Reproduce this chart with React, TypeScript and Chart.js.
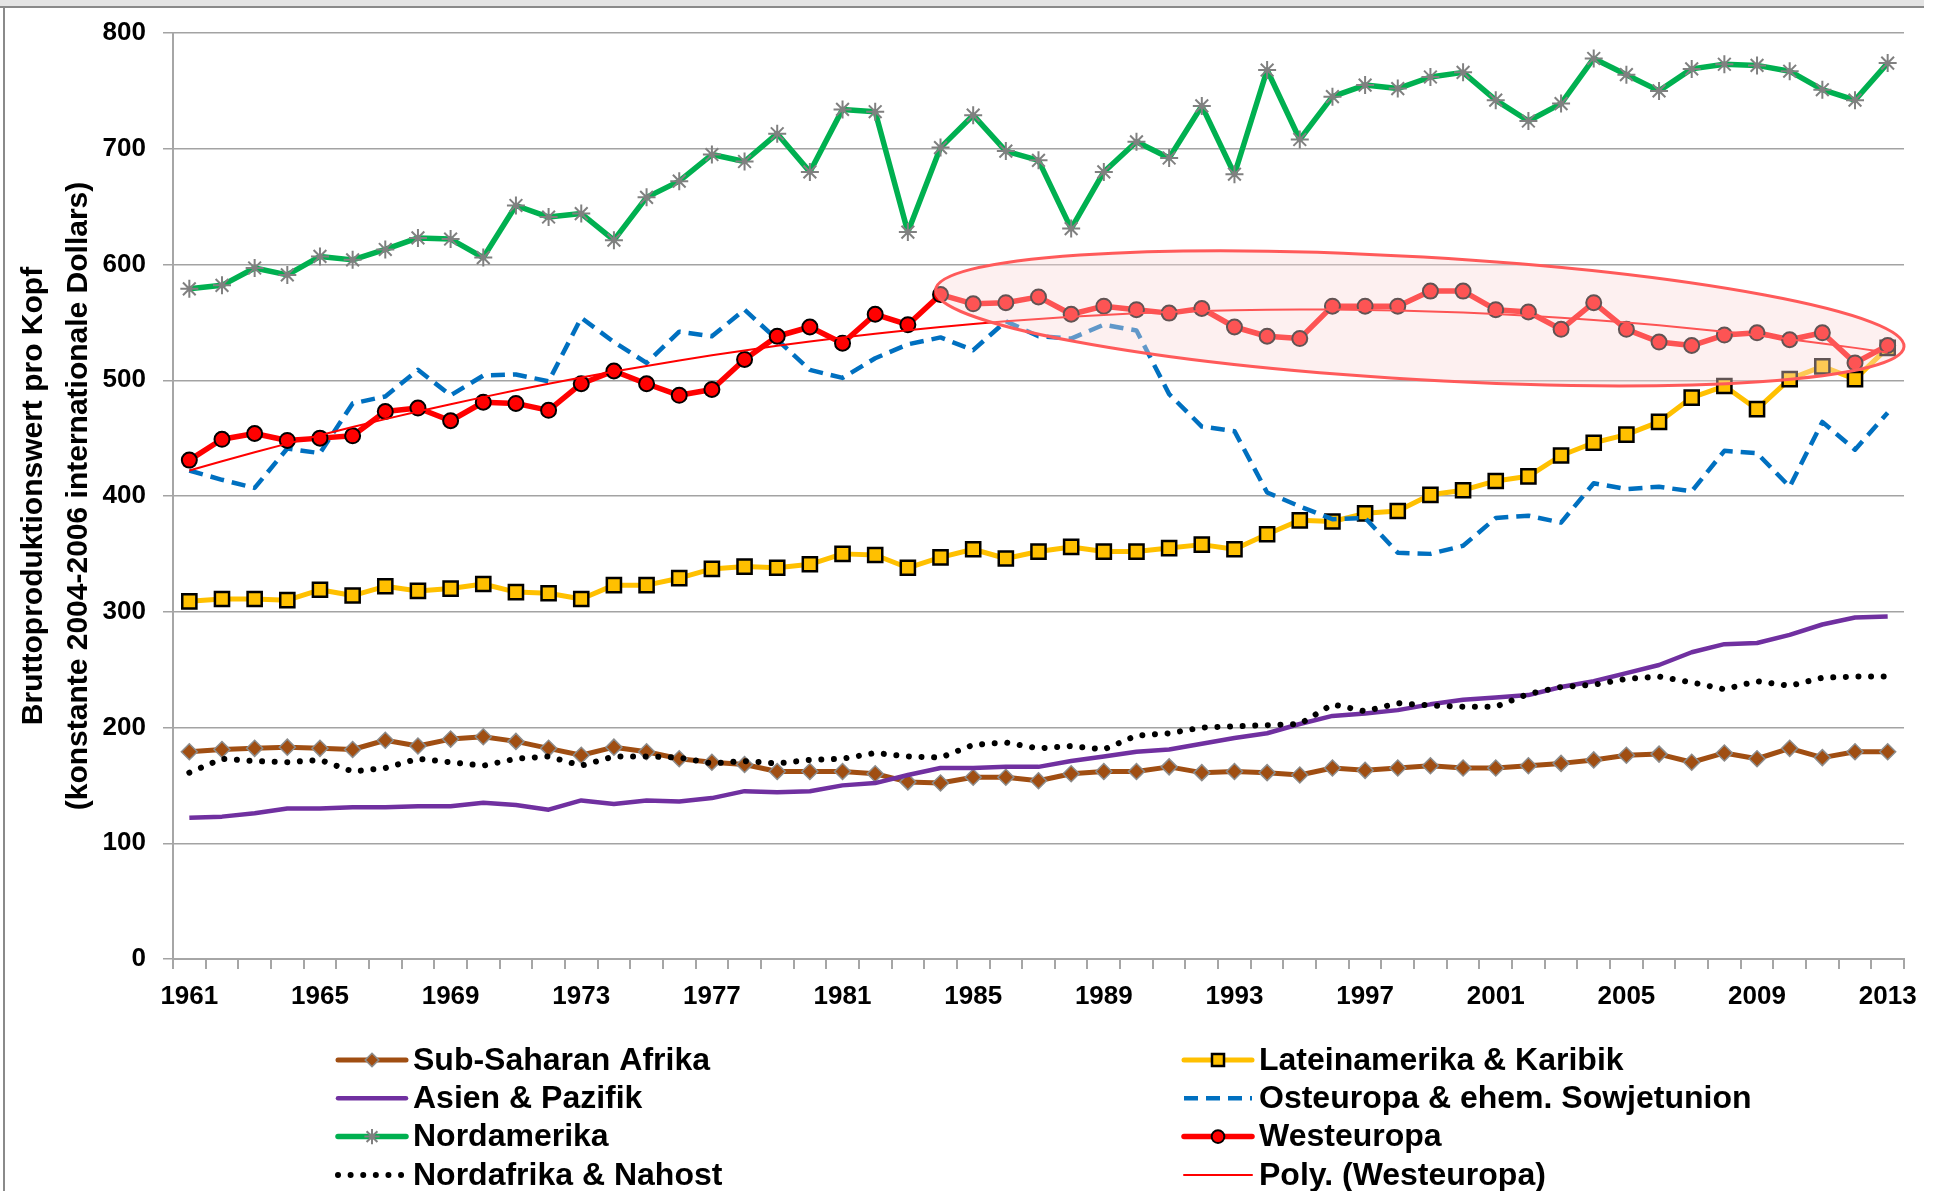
import React, { useEffect, useRef } from 'react';
import { Chart, registerables } from 'chart.js';

Chart.register(...registerables);

// ---------------- data ----------------
const YEARS = [
  '1961', '1962', '1963', '1964', '1965', '1966', '1967', '1968', '1969', '1970',
  '1971', '1972', '1973', '1974', '1975', '1976', '1977', '1978', '1979', '1980',
  '1981', '1982', '1983', '1984', '1985', '1986', '1987', '1988', '1989', '1990',
  '1991', '1992', '1993', '1994', '1995', '1996', '1997', '1998', '1999', '2000',
  '2001', '2002', '2003', '2004', '2005', '2006', '2007', '2008', '2009', '2010',
  '2011', '2012', '2013',
];

const SUB_SAHARAN = [
  179, 181, 182, 183, 182, 181, 189, 184, 190, 192,
  188, 182, 176, 183, 179, 173, 170, 168, 162, 162,
  162, 160, 153, 152, 157, 157, 154, 160, 162, 162,
  166, 161, 162, 161, 159, 165, 163, 165, 167, 165,
  165, 167, 169, 172, 176, 177, 170, 178, 173, 182,
  174, 179, 179,
];

const LATEINAMERIKA = [
  309, 311, 311, 310, 319, 314, 322, 318, 320, 324,
  317, 316, 311, 323, 323, 329, 337, 339, 338, 341,
  350, 349, 338, 347, 354, 346, 352, 356, 352, 352,
  355, 358, 354, 367, 379, 378, 385, 387, 401, 405,
  413, 417, 435, 446, 453, 464, 485, 495, 475, 501,
  512, 501, 528,
];

const ASIEN = [
  122, 123, 126, 130, 130, 131, 131, 132, 132, 135,
  133, 129, 137, 134, 137, 136, 139, 145, 144, 145,
  150, 152, 159, 165, 165, 166, 166, 171, 175, 179,
  181, 186, 191, 195, 203, 210, 212, 215, 220, 224,
  226, 228, 235, 240, 247, 254, 265, 272, 273, 280,
  289, 295, 296,
];

const OSTEUROPA = [
  422, 414, 407, 441, 437, 480, 486, 509, 487, 504,
  505, 499, 554, 533, 515, 542, 538, 561, 535, 509,
  502, 519, 531, 537, 526, 551, 538, 536, 548, 543,
  488, 460, 456, 403, 391, 380, 381, 351, 350, 357,
  381, 383, 377, 411, 406, 408, 404, 439, 437, 408,
  464, 440, 472,
];

const NORDAMERIKA = [
  579, 582, 597, 591, 607, 604, 613, 623, 622, 606,
  651, 641, 644, 621, 658, 672, 695, 689, 713, 680,
  734, 732, 628, 701, 729, 698, 690, 631, 680, 706,
  692, 737, 678, 768, 708, 745, 755, 752, 762, 766,
  742, 724, 739, 778, 764, 750, 769, 773, 772, 767,
  751, 742, 774,
];

const WESTEUROPA = [
  431, 449, 454, 448, 450, 452, 473, 476, 465, 481,
  480, 474, 497, 508, 497, 487, 492, 518, 538, 546,
  532, 557, 548, 574, 566, 567, 572, 557, 564, 561,
  558, 562, 546, 538, 536, 564, 564, 564, 577, 577,
  561, 559, 544, 567, 544, 533, 530, 539, 541, 535,
  541, 515, 530,
];

const NORDAFRIKA = [
  161, 173, 171, 170, 172, 162, 165, 173, 170, 167,
  173, 175, 167, 175, 175, 174, 169, 171, 169, 172,
  173, 178, 175, 174, 185, 187, 182, 184, 181, 193,
  195, 200, 201, 202, 203, 220, 214, 221, 219, 218,
  218, 229, 235, 237, 242, 244, 239, 233, 240, 236,
  243, 244, 244,
];

const SERIES_LABELS = [
  'Sub-Saharan Afrika',
  'Lateinamerika & Karibik',
  'Asien & Pazifik',
  'Osteuropa & ehem. Sowjetunion',
  'Nordamerika',
  'Westeuropa',
  'Nordafrika & Nahost',
  'Poly. (Westeuropa)',
];

const Y_TITLE = ['Bruttoproduktionswert pro Kopf', '(konstante 2004-2006 internationale Dollars)'];
const Y_MIN = 0;
const Y_MAX = 800;
const Y_STEP = 100;
const X_LABEL_EVERY = 4;

// highlighted region (ellipse), in data units: category index / value
const HIGHLIGHT_START = { index: 22.85, value: 578 };
const HIGHLIGHT_END = { index: 52.5, value: 529 };
const HIGHLIGHT_HALF_HEIGHT = 53;

// ---------------- helpers ----------------
// least-squares polynomial (order 2) trendline, like Excel's "Poly." trendline
function polyTrend(ys: number[]): number[] {
  const n = ys.length;
  let s0 = 0, s1 = 0, s2 = 0, s3 = 0, s4 = 0, t0 = 0, t1 = 0, t2 = 0;
  for (let i = 0; i < n; i++) {
    const x = i + 1;
    const y = ys[i];
    s0 += 1; s1 += x; s2 += x * x; s3 += x * x * x; s4 += x * x * x * x;
    t0 += y; t1 += x * y; t2 += x * x * y;
  }
  const M = [
    [s0, s1, s2, t0],
    [s1, s2, s3, t1],
    [s2, s3, s4, t2],
  ];
  for (let c = 0; c < 3; c++) {
    let p = c;
    for (let r = c + 1; r < 3; r++) if (Math.abs(M[r][c]) > Math.abs(M[p][c])) p = r;
    [M[c], M[p]] = [M[p], M[c]];
    for (let r = 0; r < 3; r++) {
      if (r === c) continue;
      const f = M[r][c] / M[c][c];
      for (let k = c; k < 4; k++) M[r][k] -= f * M[c][k];
    }
  }
  const a = M[0][3] / M[0][0];
  const b = M[1][3] / M[1][1];
  const cc = M[2][3] / M[2][2];
  return ys.map((_, i) => {
    const x = i + 1;
    return a + b * x + cc * x * x;
  });
}

const FONT = '"Liberation Sans", Arial, sans-serif';
const GRID_COLOR = '#A3A3A3';
const AXIS_COLOR = '#A6A6A6';

function drawMarker(
  ctx: CanvasRenderingContext2D,
  style: string,
  x: number,
  y: number,
  r: number,
  fill: string,
  stroke: string,
  lw: number,
) {
  ctx.save();
  ctx.setLineDash([]);
  ctx.fillStyle = fill;
  ctx.strokeStyle = stroke;
  ctx.lineWidth = lw;
  ctx.beginPath();
  if (style === 'circle') {
    ctx.arc(x, y, r, 0, Math.PI * 2);
    ctx.fill();
    ctx.stroke();
  } else if (style === 'rect') {
    const h = r * Math.SQRT1_2;
    ctx.rect(x - h, y - h, 2 * h, 2 * h);
    ctx.fill();
    ctx.stroke();
  } else if (style === 'rectRot') {
    ctx.moveTo(x, y - r);
    ctx.lineTo(x + r, y);
    ctx.lineTo(x, y + r);
    ctx.lineTo(x - r, y);
    ctx.closePath();
    ctx.fill();
    ctx.stroke();
  } else if (style === 'star') {
    ctx.moveTo(x, y - r); ctx.lineTo(x, y + r);
    ctx.moveTo(x - r, y); ctx.lineTo(x + r, y);
    const d = r * Math.SQRT1_2;
    ctx.moveTo(x - d, y - d); ctx.lineTo(x + d, y + d);
    ctx.moveTo(x - d, y + d); ctx.lineTo(x + d, y - d);
    ctx.stroke();
  }
  ctx.restore();
}

const framePlugin = {
  id: 'frame',
  beforeDraw(chart: any) {
    const { ctx, width, height } = chart;
    ctx.save();
    ctx.fillStyle = '#ffffff';
    ctx.fillRect(0, 0, width, height);
    ctx.fillStyle = '#E4E4E4';
    ctx.fillRect(0, 0, 1924, 6);
    ctx.fillStyle = '#8A8A8A';
    ctx.fillRect(0, 6, 1924, 2);
    ctx.fillRect(3, 6, 2, height - 6);
    ctx.restore();
  },
};

const highlightPlugin = {
  id: 'highlight',
  afterDatasetsDraw(chart: any) {
    const { ctx, scales } = chart;
    const xs = scales.x;
    const ys = scales.y;
    const x1 = xs.getPixelForValue(HIGHLIGHT_START.index);
    const y1 = ys.getPixelForValue(HIGHLIGHT_START.value);
    const x2 = xs.getPixelForValue(HIGHLIGHT_END.index);
    const y2 = ys.getPixelForValue(HIGHLIGHT_END.value);
    const cx = (x1 + x2) / 2;
    const cy = (y1 + y2) / 2;
    const a = Math.hypot(x2 - x1, y2 - y1) / 2;
    const rot = Math.atan2(y2 - y1, x2 - x1);
    const b = Math.abs(ys.getPixelForValue(0) - ys.getPixelForValue(HIGHLIGHT_HALF_HEIGHT));
    ctx.save();
    ctx.beginPath();
    ctx.ellipse(cx, cy, a, b, rot, 0, Math.PI * 2);
    ctx.fillStyle = 'rgba(250, 217, 217, 0.39)';
    ctx.fill();
    ctx.strokeStyle = '#FF5A5A';
    ctx.lineWidth = 3;
    ctx.stroke();
    ctx.restore();
  },
};

const LEGEND_COL_X = [338, 1184];
const LEGEND_ROW_Y = 1060;
const LEGEND_ROW_H = 38.3;
const LEGEND_SAMPLE_W = 68;

const legendPlugin = {
  id: 'gridLegend',
  afterDraw(chart: any) {
    const { ctx } = chart;
    const dsets = chart.data.datasets;
    dsets.forEach((d: any, i: number) => {
      const x0 = LEGEND_COL_X[i % 2];
      const y = LEGEND_ROW_Y + Math.floor(i / 2) * LEGEND_ROW_H;
      ctx.save();
      ctx.strokeStyle = d.borderColor;
      ctx.lineWidth = d.borderWidth;
      const dash = d.borderDash || [];
      ctx.setLineDash(dash);
      ctx.lineCap = dash.length ? d.borderCapStyle || 'butt' : 'round';
      ctx.beginPath();
      ctx.moveTo(x0, y);
      ctx.lineTo(x0 + LEGEND_SAMPLE_W, y);
      ctx.stroke();
      ctx.restore();
      if (d.pointRadius > 0) {
        drawMarker(
          ctx,
          d.pointStyle,
          x0 + LEGEND_SAMPLE_W / 2,
          y,
          d.pointRadius * 0.85,
          d.pointBackgroundColor,
          d.pointBorderColor,
          d.pointBorderWidth,
        );
      }
      ctx.save();
      ctx.font = `bold 32px ${FONT}`;
      ctx.fillStyle = '#000000';
      ctx.textAlign = 'left';
      ctx.textBaseline = 'middle';
      ctx.fillText(d.label, x0 + LEGEND_SAMPLE_W + 7, y + 1);
      ctx.restore();
    });
  },
};

export default function App() {
  const canvasRef = useRef<HTMLCanvasElement | null>(null);

  useEffect(() => {
    document.body.style.margin = '0';
    const canvas = canvasRef.current;
    if (!canvas) return;

    const trend = polyTrend(WESTEUROPA);

    const chart = new Chart(canvas, {
      type: 'line',
      data: {
        labels: YEARS,
        datasets: [
          {
            label: SERIES_LABELS[0],
            data: SUB_SAHARAN,
            borderColor: '#A04E12',
            borderWidth: 5,
            pointStyle: 'rectRot',
            pointRadius: 8,
            pointBackgroundColor: '#A04E12',
            pointBorderColor: '#8C8C8C',
            pointBorderWidth: 1.5,
            order: 7,
          },
          {
            label: SERIES_LABELS[1],
            data: LATEINAMERIKA,
            borderColor: '#FFC000',
            borderWidth: 5,
            pointStyle: 'rect',
            pointRadius: 10,
            pointBackgroundColor: '#FFC000',
            pointBorderColor: '#000000',
            pointBorderWidth: 2.5,
            order: 6,
          },
          {
            label: SERIES_LABELS[2],
            data: ASIEN,
            borderColor: '#7030A0',
            borderWidth: 4.5,
            pointRadius: 0,
            order: 5,
          },
          {
            label: SERIES_LABELS[3],
            data: OSTEUROPA,
            borderColor: '#0070C0',
            borderWidth: 4.5,
            borderDash: [14, 8],
            borderCapStyle: 'butt',
            pointRadius: 0,
            order: 4,
          },
          {
            label: SERIES_LABELS[4],
            data: NORDAMERIKA,
            borderColor: '#00B050',
            borderWidth: 5.5,
            pointStyle: 'star',
            pointRadius: 9,
            pointBackgroundColor: '#808080',
            pointBorderColor: '#808080',
            pointBorderWidth: 2,
            order: 3,
          },
          {
            label: SERIES_LABELS[5],
            data: WESTEUROPA,
            borderColor: '#FF0000',
            borderWidth: 5.5,
            pointStyle: 'circle',
            pointRadius: 7.5,
            pointBackgroundColor: '#FF0000',
            pointBorderColor: '#000000',
            pointBorderWidth: 2,
            order: 2,
          },
          {
            label: SERIES_LABELS[6],
            data: NORDAFRIKA,
            borderColor: '#000000',
            borderWidth: 6,
            borderDash: [0.01, 12.6],
            borderCapStyle: 'round',
            pointRadius: 0,
            order: 1,
          },
          {
            label: SERIES_LABELS[7],
            data: trend,
            borderColor: '#FF0000',
            borderWidth: 2,
            pointRadius: 0,
            order: 0,
          },
        ] as any,
      },
      options: {
        animation: false,
        responsive: true,
        maintainAspectRatio: false,
        devicePixelRatio: 1,
        events: [],
        layout: { padding: { left: 0, right: 39, top: 33, bottom: 172 } },
        elements: { line: { tension: 0, borderJoinStyle: 'round' } },
        plugins: {
          legend: { display: false },
          tooltip: { enabled: false },
          title: { display: false },
        },
        scales: {
          x: {
            type: 'category',
            offset: true,
            grid: {
              display: true,
              drawOnChartArea: false,
              drawTicks: true,
              tickLength: 10,
              offset: true,
              color: AXIS_COLOR,
              lineWidth: 2,
            },
            border: { display: true, color: AXIS_COLOR, width: 2 },
            ticks: {
              autoSkip: false,
              maxRotation: 0,
              minRotation: 0,
              padding: 12,
              color: '#000000',
              font: { family: FONT, size: 26, weight: 'bold' },
              callback: (_v: any, i: number) => (i % X_LABEL_EVERY === 0 ? YEARS[i] : ''),
            },
            afterFit: (s: any) => {
              s.height = 60;
            },
          },
          y: {
            min: Y_MIN,
            max: Y_MAX,
            ticks: {
              stepSize: Y_STEP,
              padding: 17,
              color: '#000000',
              font: { family: FONT, size: 26, weight: 'bold' },
            },
            grid: {
              color: GRID_COLOR,
              lineWidth: 1.5,
              drawTicks: true,
              tickLength: 10,
            },
            border: { display: true, color: AXIS_COLOR, width: 2 },
            title: {
              display: true,
              text: Y_TITLE,
              color: '#000000',
              font: { family: FONT, size: 30, weight: 'bold', lineHeight: 1.5 },
              padding: { top: 11, bottom: 0 },
            },
            afterFit: (s: any) => {
              s.width = 173;
            },
          },
        },
      } as any,
      plugins: [framePlugin, highlightPlugin, legendPlugin],
    });

    return () => {
      chart.destroy();
    };
  }, []);

  return (
    <div style={{ position: 'relative', width: '1943px', height: '1191px' }}>
      <canvas ref={canvasRef} />
    </div>
  );
}
